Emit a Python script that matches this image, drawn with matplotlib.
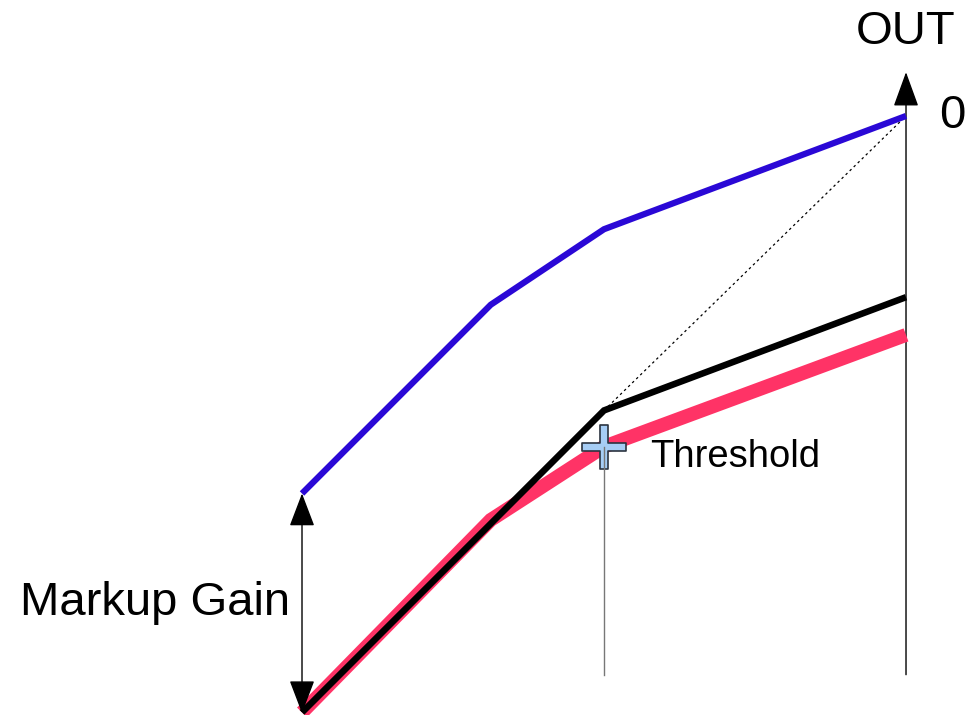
import matplotlib
matplotlib.use('Agg')
import matplotlib.pyplot as plt
from matplotlib.patches import FancyArrowPatch
from matplotlib.path import Path

plt.rcParams['font.family'] = ['Liberation Sans', 'DejaVu Sans']

# levels in dB (input -> output)
in_markup = [-80, -55, -40, 0]
out_markup = [-50, -25, -15, 0]          # blue: curve after markup gain
in_comp = [-80, -40, 0]
out_comp = [-79, -39, -24]               # black: hard-knee compressor
in_soft = [-80, -55, -40, 0]
out_soft = [-79, -53.5, -43.8, -29]      # pink: resulting curve
threshold = (-40, -43.8)
knee = (-40, -39)

fig = plt.figure(figsize=(9.72, 7.15), dpi=100)
ax = fig.add_axes([0, 0, 1, 1])
ax.set_xlim(-120.0, 8.74)
ax.set_ylim(-79.34, 15.36)
ax.axis('off')

# guide lines
ax.plot([threshold[0], threshold[0]], [threshold[1], -74], color='#777777', lw=1, zorder=7)
ax.plot([knee[0], 0], [knee[1], 0], color='black', lw=0.9, ls=(0, (2, 2.5)), zorder=1)

# OUT axis with arrow
ax.add_patch(FancyArrowPatch((0, -74), (0, 5.8), arrowstyle='-|>,head_length=22,head_width=8',
                             mutation_scale=1, lw=1, color='black', shrinkA=0, shrinkB=0, zorder=2))

# curves
ax.plot(in_soft, out_soft, color='#ff3366', lw=10, solid_joinstyle='miter', solid_capstyle='butt', zorder=3)
ax.plot(in_comp, out_comp, color='black', lw=4.7, solid_joinstyle='miter', solid_capstyle='butt', zorder=4)
ax.plot(in_markup, out_markup, color='#2a08d6', lw=4.5, solid_joinstyle='miter', solid_capstyle='butt', zorder=4)

# markup gain double arrow
ax.add_patch(FancyArrowPatch((-80, out_markup[0]), (-80, -79.1), arrowstyle='<|-|>,head_length=21,head_width=8',
                             mutation_scale=1, lw=1, color='black', shrinkA=0, shrinkB=0, zorder=5))

# threshold cross marker
s = 0.18
cross = Path([(-s, -1), (s, -1), (s, -s), (1, -s), (1, s), (s, s), (s, 1), (-s, 1), (-s, s),
              (-1, s), (-1, -s), (-s, -s), (-s, -1)], closed=True)
ax.plot([threshold[0]], [threshold[1]], marker=cross, markersize=32, markerfacecolor='#a6cdf5',
        markeredgecolor='#2b3440', markeredgewidth=1.2, zorder=6)

# labels
ax.text(0, 11.1, 'OUT', fontsize=34, ha='center', va='center')
ax.text(4.4, 0, '0', fontsize=34, ha='left', va='center')
ax.text(-81.6, -64.5, 'Markup Gain', fontsize=34, ha='right', va='center')
ax.text(-33.9, -45.2, 'Threshold', fontsize=27.5, ha='left', va='center')

fig.savefig('out.png', dpi=100)
